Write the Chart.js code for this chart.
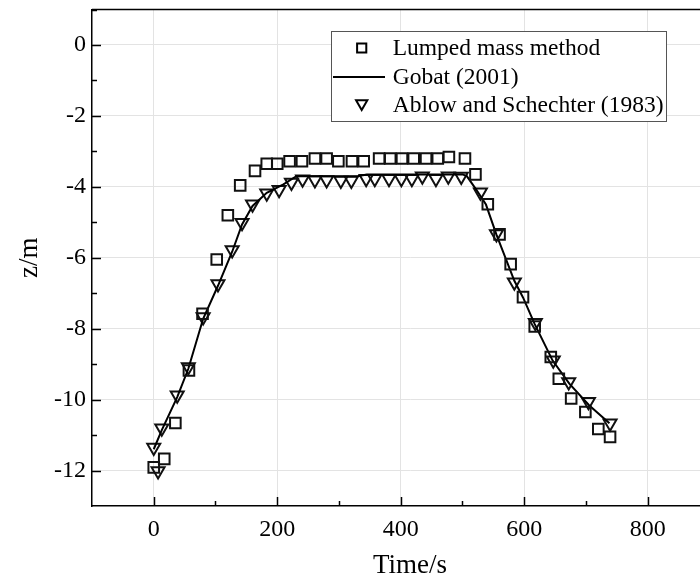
<!DOCTYPE html>
<html><head><meta charset="utf-8">
<script src="https://cdn.jsdelivr.net/npm/chart.js@4.4.0/dist/chart.umd.min.js"></script>
<style>html,body{margin:0;padding:0;overflow:hidden;background:#fff}#wrap{width:740px;height:584px}</style>
</head><body><div id="wrap"><canvas id="c"></canvas></div>
<script>
// Lumped mass method (squares)
const lumpedTime = [0,17,35,57,79,102,120,140,164,183,200,220,240,261,280,299,321,340,365,383,402,421,441,460,478,504,521,541,560,578,598,617,643,656,676,699,720,739];
const lumpedZ = [-11.91,-11.67,-10.66,-9.18,-7.58,-6.05,-4.80,-3.96,-3.55,-3.35,-3.35,-3.28,-3.28,-3.20,-3.20,-3.28,-3.28,-3.28,-3.20,-3.20,-3.20,-3.20,-3.20,-3.20,-3.16,-3.20,-3.65,-4.49,-5.34,-6.18,-7.11,-7.94,-8.80,-9.41,-9.97,-10.35,-10.83,-11.05];
// Gobat (2001) (line)
const gobatTime = [0,13,38,56,80,104,127,143,160,183,210,231,330,345,500,507,522,538,555,584,598,617,646,673,705,738];
const gobatZ = [-11.4,-10.86,-9.93,-9.13,-7.72,-6.79,-5.83,-5.06,-4.54,-4.17,-3.93,-3.70,-3.70,-3.65,-3.65,-3.70,-4.07,-4.5,-5.35,-6.65,-7.12,-7.87,-8.9,-9.55,-10.16,-10.67];
// Ablow and Schechter (1983) (down triangles)
const ablowTime = [0,7,13,38,56,80,104,127,143,160,183,203,223,241,261,280,303,320,344,358,381,401,418,435,457,477,498,529,555,584,618,647,672,704,739];
const ablowZ = [-11.35,-12.01,-10.81,-9.88,-9.08,-7.67,-6.74,-5.78,-5.01,-4.49,-4.18,-4.08,-3.88,-3.79,-3.81,-3.81,-3.82,-3.82,-3.77,-3.77,-3.77,-3.77,-3.77,-3.70,-3.77,-3.70,-3.71,-4.15,-5.33,-6.69,-7.83,-8.89,-9.50,-10.06,-10.67];

const seriesLabels = ['Lumped mass method','Gobat (2001)','Ablow and Schechter (1983)'];
const xTitle = 'Time/s';
const yTitle = 'z/m';

const FONT = "'Liberation Serif','Times New Roman',serif";
Chart.defaults.font.family = FONT;
Chart.defaults.color = '#000';

const pts = (xs, ys) => xs.map((x, i) => ({x, y: ys[i]}));

const innerTicks = {
  id: 'innerTicks',
  afterDraw(chart) {
    const ctx = chart.ctx, a = chart.chartArea;
    const xs = chart.scales.x, ys = chart.scales.y;
    ctx.save();
    ctx.strokeStyle = '#000';
    ctx.lineWidth = 1.5;
    xs.ticks.forEach(t => {
      const px = Math.round(xs.getPixelForValue(t.value)) + 0.5;
      if (px <= a.left + 1 || px > a.right) return;
      const len = (t.value % 200 === 0) ? 9 : 5;
      ctx.beginPath(); ctx.moveTo(px, a.bottom); ctx.lineTo(px, a.bottom - len); ctx.stroke();
    });
    ys.ticks.forEach(t => {
      const py = Math.round(ys.getPixelForValue(t.value)) + 0.5;
      if (py >= a.bottom - 1 || py < a.top + 1) return;
      const len = (t.value % 2 === 0) ? 9 : 5;
      ctx.beginPath(); ctx.moveTo(a.left, py); ctx.lineTo(a.left + len, py); ctx.stroke();
    });
    // top border
    ctx.beginPath(); ctx.moveTo(a.left, a.top); ctx.lineTo(a.right, a.top); ctx.stroke();
    // legend
    const lx = 331.5, ly = 31.5, lw = 335, lh = 90;
    ctx.fillStyle = '#fff';
    ctx.fillRect(lx, ly, lw, lh);
    ctx.strokeStyle = '#555'; ctx.lineWidth = 1;
    ctx.strokeRect(lx, ly, lw, lh);
    const rows = [48, 77, 105];
    const ds = chart.data.datasets;
    ctx.strokeStyle = '#000';
    ctx.fillStyle = 'rgba(0,0,0,0)';
    ctx.lineWidth = 2;
    Chart.helpers.drawPoint(ctx, {pointStyle: 'rect', radius: 6.5, rotation: 0, borderWidth: 2}, 361.7, rows[0]);
    ctx.beginPath(); ctx.moveTo(333, rows[1]); ctx.lineTo(385, rows[1]); ctx.stroke();
    ctx.fillStyle = 'rgba(0,0,0,0)';
    Chart.helpers.drawPoint(ctx, {pointStyle: 'triangle', radius: 6.5, rotation: 180, borderWidth: 2}, 361.7, rows[2] - 1.5);
    ctx.fillStyle = '#000';
    ctx.font = '23.5px ' + FONT;
    ctx.textBaseline = 'middle';
    ctx.textAlign = 'left';
    ds.forEach((d, i) => ctx.fillText(d.label, 392.7, rows[i] + 1));
    ctx.restore();
  }
};

new Chart(document.getElementById('c'), {
  type: 'scatter',
  data: {
    datasets: [
      {label: seriesLabels[0], data: pts(lumpedTime, lumpedZ), pointStyle: 'rect', pointRadius: 7.5, pointHoverRadius: 7.5,
       borderColor: '#111', backgroundColor: 'rgba(0,0,0,0)', pointBorderWidth: 2, showLine: false},
      {label: seriesLabels[1], data: pts(gobatTime, gobatZ), showLine: true, pointRadius: 0, borderColor: '#000',
       borderWidth: 2, tension: 0, backgroundColor: 'rgba(0,0,0,0)'},
      {label: seriesLabels[2], data: pts(ablowTime, ablowZ), pointStyle: 'triangle', rotation: 180, pointRadius: 7.5, pointHoverRadius: 7.5,
       borderColor: '#111', backgroundColor: 'rgba(0,0,0,0)', pointBorderWidth: 2, showLine: false}
    ]
  },
  options: {
    responsive: true, maintainAspectRatio: false, animation: false,
    layout: {padding: {left: 0, top: 8, right: 12, bottom: 0}},
    plugins: {legend: {display: false}, tooltip: {enabled: false}},
    scales: {
      x: {
        type: 'linear', min: -100, max: 930,
        afterFit(s) { s.height = 78; s.paddingLeft = 0; s.paddingRight = 0; },
        ticks: {stepSize: 100, includeBounds: false, autoSkip: false, maxRotation: 0, padding: 9,
          font: {size: 24}, color: '#000',
          callback: v => (v % 200 === 0 ? String(v) : '')},
        grid: {drawTicks: false, color: c => (c.tick && c.tick.value % 200 === 0 && c.tick.value >= 0) ? '#e3e3e3' : 'rgba(0,0,0,0)', lineWidth: 1},
        border: {display: true, color: '#000', width: 1.5},
        title: {display: true, text: xTitle, font: {size: 27, lineHeight: 1.2}, color: '#000', padding: {top: 0, bottom: 2}}
      },
      y: {
        type: 'linear', min: -13, max: 1,
        afterFit(s) { s.width = 92; s.paddingTop = 0; s.paddingBottom = 0; },
        ticks: {stepSize: 1, includeBounds: false, autoSkip: false, padding: 6,
          font: {size: 24}, color: '#000',
          callback: v => (v % 2 === 0 ? String(v) : '')},
        grid: {drawTicks: false, color: c => (c.tick && c.tick.value % 2 === 0) ? '#e3e3e3' : 'rgba(0,0,0,0)', lineWidth: 1},
        border: {display: true, color: '#000', width: 1.5},
        title: {display: true, text: yTitle, font: {size: 27, lineHeight: 1.2}, color: '#000', padding: {top: 14, bottom: 0}}
      }
    }
  },
  plugins: [innerTicks]
});
</script>
</body></html>
